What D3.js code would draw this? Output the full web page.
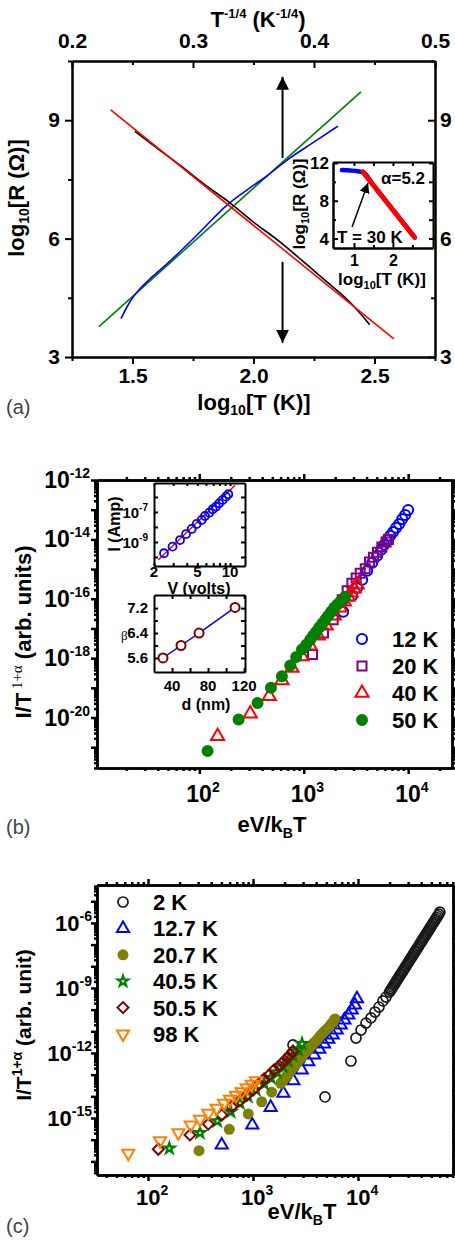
<!DOCTYPE html>
<html>
<head>
<meta charset="utf-8">
<script src="https://cdn.jsdelivr.net/npm/d3@7"></script>
<style>
  body { margin: 0; background: #fff; }
  svg { display: block; }
</style>
</head>
<body>
<svg id="fig" width="455" height="1240"></svg>
<script>
// values; "Log" arrays hold log10 values

// ---- (a) main: log10 R vs log10 T (black data, red fit), bottom axis
const aLogT = [1.51, 1.6, 1.7, 1.8, 1.9, 2.0, 2.1, 2.2, 2.3, 2.4, 2.48];
const aLogR = [8.72, 8.3, 7.84, 7.36, 6.92, 6.42, 5.96, 5.45, 4.92, 4.38, 3.82];
const aFitLogT = [1.41, 2.58];
const aFitLogR = [9.26, 3.46];
// ---- (a) main: log10 R vs T^-1/4 (blue data, green fit), top axis
const aTq = [0.2405, 0.2479, 0.2562, 0.2645, 0.2785, 0.3033, 0.3281, 0.3496, 0.3612, 0.3777, 0.3992, 0.4198];
const aTqLogR = [3.97, 4.40, 4.73, 4.98, 5.36, 6.09, 6.85, 7.34, 7.59, 7.99, 8.43, 8.85];
const aTqFit = [0.2223, 0.4388];
const aTqFitLogR = [3.77, 9.72];
// arrows (log10 T, from / to log10 R)
const arrowLogT = 2.12;
const arrowUp = [8.04, 10.1];
const arrowDown = [5.41, 3.36];
// ---- (a) inset
const insLogT = [0.69, 0.9, 1.1, 1.24, 1.5, 2.0, 2.56];
const insLogR = [11.25, 11.2, 11.12, 11.0, 9.62, 7.02, 4.12];
const insFitLogT = [1.23, 2.56];
const insFitLogR = [11.04, 4.11];
const insArrowLogT = [0.95, 1.36];
const insArrowLogR = [5.22, 9.88];
// tick values (a)
const aBottomTicks = [1.5, 2.0, 2.5], aBottomMinor = [1.25, 1.75, 2.25, 2.75];
const aTopTicks = [0.2, 0.3, 0.4, 0.5], aTopMinor = [0.25, 0.35, 0.45];
const aLeftTicks = [3, 6, 9], aLeftMinor = [4.5, 7.5, 10.5];
const insYTicks = [4, 8, 12], insYMinor = [6, 10];
const insXTicks = [1, 2], insXMinor = [1.5, 2.5];

// ---- (b) main: log10(eV/kBT), log10(I/T^(1+a))
const b12LogX = [3.378, 3.464, 3.512, 3.56, 3.608, 3.656, 3.703, 3.742, 3.77, 3.799, 3.828, 3.856, 3.885, 3.914, 3.943, 3.971, 4.0];
const b12LogY = [-16.44, -15.9, -15.63, -15.36, -15.06, -14.79, -14.55, -14.35, -14.18, -14.02, -13.88, -13.75, -13.61, -13.48, -13.31, -13.18, -13.01];
const b20LogX = [3.084, 3.189, 3.282, 3.368, 3.416, 3.461, 3.502, 3.541, 3.589, 3.63, 3.668, 3.706, 3.748, 3.789, 3.811];
const b20LogY = [-17.88, -17.15, -16.71, -16.03, -15.73, -15.48, -15.3, -15.14, -14.99, -14.76, -14.6, -14.43, -14.26, -14.09, -14.0];
const b40LogX = [2.175, 2.488, 2.67, 2.791, 2.887, 2.983, 3.062, 3.139, 3.215, 3.292, 3.349, 3.388, 3.426, 3.455, 3.483, 3.512];
const b40LogY = [-20.63, -19.87, -19.28, -18.75, -18.33, -17.94, -17.58, -17.24, -16.91, -16.57, -16.3, -16.1, -15.93, -15.8, -15.66, -15.53];
const b50LogX = [2.079, 2.376, 2.558, 2.686, 2.791, 2.871, 2.928, 2.983, 3.024, 3.062, 3.091, 3.12, 3.148, 3.177, 3.206, 3.234, 3.263, 3.292, 3.321, 3.349, 3.378, 3.397];
const b50LogY = [-21.13, -20.07, -19.51, -19.0, -18.61, -18.25, -17.96, -17.71, -17.55, -17.38, -17.24, -17.11, -16.97, -16.84, -16.71, -16.57, -16.44, -16.3, -16.2, -16.1, -16.0, -15.93];
const bYLabelExp = [-12, -14, -16, -18, -20];
const bXLabelExp = [2, 3, 4];
// ---- (b) inset I-V
const ivVolts = [2.47, 2.96, 3.47, 3.94, 4.44, 4.93, 5.48, 5.87, 6.43, 6.92, 7.41, 7.94, 8.53, 9.16, 9.62];
const ivLogI = [-9.75, -9.31, -8.87, -8.47, -8.13, -7.8, -7.53, -7.27, -7.05, -6.82, -6.65, -6.42, -6.2, -5.98, -5.82];
const ivFitVolts = [2.19, 11.1];
const ivFitLogI = [-10.2, -5.22];
const ivXTicks = [2, 3, 4, 5, 6, 7, 8, 9, 10], ivXLabels = [2, 5, 10];
const ivYTicks = [-10, -9, -8, -7, -6], ivYLabels = [-9, -7];
// ---- (b) inset beta-d
const dNm = [30, 50, 70, 110];
const beta = [5.6, 6.0, 6.4, 7.22];
const dTicks = [40, 60, 80, 100, 120], dLabels = [40, 80, 120];
const betaTicks = [5.6, 6.0, 6.4, 6.8, 7.2], betaLabels = [5.6, 6.4, 7.2];

// ---- (c) main
const c2LogX = [3.381, 3.686, 3.933, 3.981, 4.029, 4.076, 4.124, 4.162, 4.2, 4.238, 4.267,
  4.30, 4.31, 4.32, 4.33, 4.34, 4.35, 4.36, 4.37, 4.38, 4.39, 4.40, 4.41, 4.42, 4.43, 4.44, 4.45, 4.46,
  4.47, 4.48, 4.49, 4.50, 4.51, 4.52, 4.53, 4.54, 4.55, 4.56, 4.57, 4.58, 4.59, 4.60, 4.61, 4.62, 4.63,
  4.64, 4.65, 4.66, 4.67, 4.68, 4.69, 4.70, 4.71, 4.72, 4.73, 4.74, 4.75, 4.76, 4.77, 4.78];
const c2LogY = [-11.63, -14.03, -12.37, -11.31, -10.94, -10.62, -10.38, -10.11, -9.88, -9.6, -9.42,
  -9.19, -9.11, -9.04, -8.96, -8.88, -8.81, -8.73, -8.65, -8.58, -8.50, -8.42, -8.35, -8.27, -8.20, -8.12, -8.04, -7.97,
  -7.89, -7.81, -7.74, -7.66, -7.58, -7.51, -7.43, -7.35, -7.28, -7.20, -7.13, -7.05, -6.97, -6.90, -6.82, -6.74, -6.67,
  -6.59, -6.51, -6.44, -6.36, -6.28, -6.21, -6.13, -6.05, -5.98, -5.90, -5.82, -5.75, -5.67, -5.59, -5.50];
const c13LogX = [2.702, 2.993, 3.168, 3.289, 3.384, 3.464, 3.527, 3.581, 3.631, 3.676, 3.717, 3.759, 3.797, 3.835, 3.87, 3.908, 3.94, 3.971, 3.99];
const c13LogY = [-16.25, -15.32, -14.51, -13.86, -13.28, -12.78, -12.4, -12.09, -11.83, -11.59, -11.37, -11.17, -10.94, -10.71, -10.48, -10.25, -10.02, -9.79, -9.5];
const c21LogX = [2.486, 2.774, 2.955, 3.083, 3.178, 3.264, 3.285, 3.305, 3.324, 3.343, 3.362, 3.381, 3.4, 3.419, 3.438, 3.457, 3.476, 3.495, 3.514, 3.533, 3.552, 3.571, 3.59, 3.61, 3.629, 3.648, 3.667, 3.686, 3.705, 3.724, 3.743, 3.762, 3.781];
const c21LogY = [-16.51, -15.52, -14.81, -14.25, -13.81, -13.4, -13.27, -13.15, -13.03, -12.92, -12.8, -12.69, -12.57, -12.46, -12.34, -12.23, -12.11, -12.0, -11.91, -11.82, -11.7, -11.58, -11.49, -11.4, -11.28, -11.17, -11.07, -10.98, -10.89, -10.8, -10.68, -10.57, -10.43];
const c40LogX = [2.203, 2.495, 2.66, 2.788, 2.876, 2.952, 3.029, 3.105, 3.171, 3.229, 3.286, 3.333, 3.381, 3.429, 3.467];
const c40LogY = [-16.4, -15.68, -15.14, -14.71, -14.32, -14.0, -13.7, -13.42, -13.15, -12.88, -12.62, -12.36, -12.12, -11.85, -11.58];
const c50LogX = [2.098, 2.4, 2.574, 2.702, 2.797, 2.876, 2.943, 3.0, 3.057, 3.105, 3.152, 3.2, 3.248, 3.286, 3.324, 3.352, 3.381];
const c50LogY = [-16.44, -15.78, -15.28, -14.86, -14.48, -14.2, -13.94, -13.71, -13.43, -13.2, -13.02, -12.78, -12.6, -12.42, -12.23, -12.09, -11.91];
const c98LogX = [1.812, 2.114, 2.289, 2.407, 2.495, 2.574, 2.654, 2.724, 2.781, 2.838, 2.892, 2.94, 2.988, 3.029];
const c98LogY = [-16.63, -16.05, -15.68, -15.32, -15.06, -14.78, -14.55, -14.32, -14.14, -13.95, -13.79, -13.6, -13.44, -13.28];
const cYLabelExp = [-6, -9, -12, -15];
const cXLabelExp = [2, 3, 4];

// ================= drawing =================
const SANS = "'Liberation Sans', Arial, Helvetica, sans-serif";
const SERIF = "'Liberation Serif', 'DejaVu Serif', serif";

const svg = d3.select("#fig")
  .attr("font-family", SANS)
  .attr("font-weight", "bold");
svg.append("rect").attr("width", 455).attr("height", 1240).attr("fill", "#fff");

const defs = svg.append("defs");
function arrowHead(id, w) {
  defs.append("marker").attr("id", id)
    .attr("viewBox", "0 0 10 10").attr("refX", 10).attr("refY", 5)
    .attr("markerWidth", w).attr("markerHeight", w)
    .attr("markerUnits", "userSpaceOnUse").attr("orient", "auto")
    .append("path").attr("d", "M0,0L10,5L0,10z").attr("fill", "#000");
}
arrowHead("headBig", 13);
arrowHead("headSmall", 10);

function styleAxis(g, size, sw) {
  g.attr("font-size", size).attr("font-family", SANS).attr("font-weight", "bold");
  g.selectAll(".domain, .tick line").attr("stroke", "#000").attr("stroke-width", sw || 2);
  g.selectAll(".tick text").attr("fill", "#000");
  return g;
}
function axisAt(parent, axis, x, y, size, sw) {
  const g = parent.append("g").attr("transform", `translate(${x},${y})`).call(axis);
  return styleAxis(g, size || 10, sw);
}

// text with sub/superscripts; p.dy is offset from baseline
function richText(parent, x, y, parts, opts) {
  const t = parent.append("text").attr("x", x).attr("y", y)
    .attr("font-size", opts.size).attr("text-anchor", opts.anchor || "middle")
    .attr("fill", "#000");
  if (opts.rotate) t.attr("transform", `rotate(-90,${x},${y})`);
  let shift = 0;
  parts.forEach(p => {
    const ts = t.append("tspan").text(p.t);
    const dy = (p.dy || 0) - shift;
    if (dy) ts.attr("dy", dy);
    shift = p.dy || 0;
    if (p.size) ts.attr("font-size", p.size);
    if (p.font) ts.attr("font-family", p.font);
    if (p.weight) ts.attr("font-weight", p.weight);
  });
  return t;
}

function decades(s) {
  const [a, b] = s.domain(), out = [];
  for (let e = Math.ceil(Math.log10(a) - 1e-9); e <= Math.floor(Math.log10(b) + 1e-9); e++) out.push(Math.pow(10, e));
  return out;
}
function minors(s) {
  const [a, b] = s.domain(), out = [];
  for (let e = Math.floor(Math.log10(a)); e <= Math.ceil(Math.log10(b)); e++)
    for (let k = 2; k < 10; k++) {
      const v = k * Math.pow(10, e);
      if (v >= a && v <= b) out.push(v);
    }
  return out;
}

// four-sided log frame with outward ticks
function logBox(g, sx, sy, sw) {
  const [x0, x1] = sx.range(), [y0, y1] = sy.range();
  const sets = [[minors, 3], [decades, 6]];
  sets.forEach(([fn, len]) => {
    axisAt(g, d3.axisBottom(sx).tickValues(fn(sx)).tickSize(len).tickSizeOuter(0).tickFormat(""), 0, y0, 10, sw);
    axisAt(g, d3.axisTop(sx).tickValues(fn(sx)).tickSize(len).tickSizeOuter(0).tickFormat(""), 0, y1, 10, sw);
    axisAt(g, d3.axisLeft(sy).tickValues(fn(sy)).tickSize(len).tickSizeOuter(0).tickFormat(""), x0, 0, 10, sw);
    axisAt(g, d3.axisRight(sy).tickValues(fn(sy)).tickSize(len).tickSizeOuter(0).tickFormat(""), x1, 0, 10, sw);
  });
}

const symbolTypes = {
  circle: d3.symbolCircle, square: d3.symbolSquare, triangle: d3.symbolTriangle,
  diamond: d3.symbolSquare, down: d3.symbolTriangle, star: d3.symbolStar
};
const symbolRotate = { diamond: 45, down: 180 };
function styleMark(sel, s) {
  return sel.attr("d", d3.symbol(symbolTypes[s.shape], s.size)())
    .attr("fill", s.fill ? s.color : "none")
    .attr("stroke", s.fill ? "none" : s.color)
    .attr("stroke-width", s.sw || 2);
}
function drawSeries(g, sx, sy, s) {
  g.append("g").selectAll("path")
    .data(d3.zip(s.lx, s.ly))
    .join("path")
    .attr("transform", d => `translate(${sx(10 ** d[0])},${sy(10 ** d[1])}) rotate(${symbolRotate[s.shape] || 0})`)
    .call(sel => styleMark(sel, s));
}
function legend(g, series, mx, tx, y0, step, size) {
  series.forEach((s, i) => {
    const cy = y0 + i * step;
    g.append("path")
      .attr("transform", `translate(${mx},${cy}) rotate(${symbolRotate[s.shape] || 0})`)
      .call(sel => styleMark(sel, s));
    g.append("text").attr("x", tx).attr("y", cy + 8).attr("font-size", size).text(s.name);
  });
}

// ====================== panel (a) ======================
const gA = svg.append("g");
const aX = d3.scaleLinear().domain([1.25, 2.75]).range([72, 435]);
const aXt = d3.scaleLinear().domain([0.2, 0.5]).range([72, 435]);
const aY = d3.scaleLinear().domain([3, 10.5]).range([357, 61]);

axisAt(gA, d3.axisBottom(aX).tickValues(aBottomMinor).tickSize(4).tickSizeOuter(0).tickFormat(""), 0, 357);
axisAt(gA, d3.axisBottom(aX).tickValues(aBottomTicks).tickSize(7).tickSizeOuter(0).tickPadding(4).tickFormat(d3.format(".1f")), 0, 357, 21);
axisAt(gA, d3.axisTop(aXt).tickValues(aTopMinor).tickSize(-4).tickSizeOuter(0).tickFormat(""), 0, 61);
axisAt(gA, d3.axisTop(aXt).tickValues(aTopTicks).tickSize(-7).tickSizeOuter(0).tickPadding(13).tickFormat(d3.format(".1f")), 0, 61, 21);
axisAt(gA, d3.axisLeft(aY).tickValues(aLeftMinor).tickSize(4).tickSizeOuter(0).tickFormat(""), 72, 0);
axisAt(gA, d3.axisLeft(aY).tickValues(aLeftTicks).tickSize(7).tickSizeOuter(0).tickPadding(5).tickFormat(d3.format("d")), 72, 0, 21);
axisAt(gA, d3.axisRight(aY).tickValues(aLeftMinor).tickSize(-4).tickSizeOuter(0).tickFormat(""), 435, 0);
axisAt(gA, d3.axisRight(aY).tickValues(aLeftTicks).tickSize(-7).tickSizeOuter(0).tickPadding(5).tickFormat(d3.format("d")), 435, 0, 21);

const lineT = d3.line().x(d => aX(d[0])).y(d => aY(d[1]));
const lineTq = d3.line().x(d => aXt(d[0])).y(d => aY(d[1]));
const lineTqSmooth = d3.line().x(d => aXt(d[0])).y(d => aY(d[1])).curve(d3.curveMonotoneX);
const lineTSmooth = d3.line().x(d => aX(d[0])).y(d => aY(d[1])).curve(d3.curveMonotoneX);

gA.append("path").attr("d", lineTq(d3.zip(aTqFit, aTqFitLogR))).attr("fill", "none").attr("stroke", "#008000").attr("stroke-width", 1.6);
gA.append("path").attr("d", lineTqSmooth(d3.zip(aTq, aTqLogR))).attr("fill", "none").attr("stroke", "#0000ff").attr("stroke-width", 1.6);
gA.append("path").attr("d", lineTSmooth(d3.zip(aLogT, aLogR))).attr("fill", "none").attr("stroke", "#000").attr("stroke-width", 1.6);
gA.append("path").attr("d", lineT(d3.zip(aFitLogT, aFitLogR))).attr("fill", "none").attr("stroke", "#ff0000").attr("stroke-width", 1.6);

gA.append("line")
  .attr("x1", aX(arrowLogT)).attr("x2", aX(arrowLogT))
  .attr("y1", aY(arrowUp[0])).attr("y2", aY(arrowUp[1]))
  .attr("stroke", "#000").attr("stroke-width", 2).attr("marker-end", "url(#headBig)");
gA.append("line")
  .attr("x1", aX(arrowLogT)).attr("x2", aX(arrowLogT))
  .attr("y1", aY(arrowDown[0])).attr("y2", aY(arrowDown[1]))
  .attr("stroke", "#000").attr("stroke-width", 2).attr("marker-end", "url(#headBig)");

richText(gA, 24, 198, [{ t: "log" }, { t: "10", dy: 5, size: 14 }, { t: "[R (Ω)]" }], { size: 22, rotate: true });
richText(gA, 254, 410, [{ t: "log" }, { t: "10", dy: 5, size: 14 }, { t: "[T (K)]" }], { size: 22 });
richText(gA, 258, 27, [{ t: "T" }, { t: "-1/4", dy: -9, size: 13 }, { t: " (K" }, { t: "-1/4", dy: -9, size: 13 }, { t: ")" }], { size: 22 });
gA.append("text").attr("x", 6).attr("y", 414).attr("font-size", 20).attr("font-weight", "normal").attr("fill", "#444").text("(a)");

// inset (a)
const gI = svg.append("g");
const iX = d3.scaleLinear().domain([0.46, 3.03]).range([333, 433]);
const iY = d3.scaleLinear().domain([3, 12.1]).range([248, 162]);
gI.append("rect").attr("x", 333).attr("y", 162).attr("width", 100).attr("height", 86).attr("fill", "#fff");
axisAt(gI, d3.axisBottom(iX).tickValues(insXMinor).tickSize(-3).tickSizeOuter(0).tickFormat(""), 0, 248);
axisAt(gI, d3.axisBottom(iX).tickValues(insXTicks).tickSize(-5).tickSizeOuter(0).tickPadding(7).tickFormat(d3.format("d")), 0, 248, 16);
axisAt(gI, d3.axisTop(iX).tickValues(insXTicks.concat(insXMinor)).tickSize(-4).tickSizeOuter(0).tickFormat(""), 0, 162);
axisAt(gI, d3.axisLeft(iY).tickValues(insYMinor).tickSize(-3).tickSizeOuter(0).tickFormat(""), 333, 0);
axisAt(gI, d3.axisLeft(iY).tickValues(insYTicks).tickSize(-5).tickSizeOuter(0).tickPadding(4).tickFormat(d3.format("d")), 333, 0, 17);
axisAt(gI, d3.axisRight(iY).tickValues(insYTicks.concat(insYMinor)).tickSize(-4).tickSizeOuter(0).tickFormat(""), 433, 0);

const lineI = d3.line().x(d => iX(d[0])).y(d => iY(d[1]));
gI.append("path").attr("d", lineI.curve(d3.curveMonotoneX)(d3.zip(insLogT, insLogR)))
  .attr("fill", "none").attr("stroke", "#0000ff").attr("stroke-width", 4.5).attr("stroke-linecap", "round");
gI.append("path").attr("d", d3.line().x(d => iX(d[0])).y(d => iY(d[1]))(d3.zip(insFitLogT, insFitLogR)))
  .attr("fill", "none").attr("stroke", "#ff0000").attr("stroke-width", 5).attr("stroke-linecap", "round");
gI.append("line")
  .attr("x1", iX(insArrowLogT[0])).attr("y1", iY(insArrowLogR[0]))
  .attr("x2", iX(insArrowLogT[1])).attr("y2", iY(insArrowLogR[1]))
  .attr("stroke", "#000").attr("stroke-width", 1.5).attr("marker-end", "url(#headSmall)");
gI.append("text").attr("x", 381).attr("y", 184).attr("font-size", 17).text("α=5.2");
gI.append("text").attr("x", 337).attr("y", 243).attr("font-size", 17).text("T = 30 K");
richText(gI, 305, 204, [{ t: "log" }, { t: "10", dy: 4, size: 11 }, { t: "[R (Ω)]" }], { size: 17, rotate: true });
richText(gI, 382, 285, [{ t: "log" }, { t: "10", dy: 4, size: 11 }, { t: "[T (K)]" }], { size: 17 });

// ====================== panel (b) ======================
const gB = svg.append("g");
const bX = d3.scaleLog().domain([10 ** 1.02, 10 ** 4.42]).range([97, 452]);
const bY = d3.scaleLog().domain([10 ** -21.7, 1e-12]).range([768, 480]);
logBox(gB, bX, bY, 2.5);
bYLabelExp.forEach(e => richText(gB, 90, bY(10 ** e) + 8, [{ t: "10" }, { t: String(e), dy: -10, size: 14 }], { size: 23, anchor: "end" }));
bXLabelExp.forEach(e => richText(gB, bX(10 ** e) - 13, 802, [{ t: "10" }, { t: String(e), dy: -10, size: 14 }], { size: 23, anchor: "start" }));

const bSeries = [
  { name: "12 K", lx: b12LogX, ly: b12LogY, shape: "circle", size: 79, color: "#0000ff" },
  { name: "20 K", lx: b20LogX, ly: b20LogY, shape: "square", size: 81, color: "#800080" },
  { name: "40 K", lx: b40LogX, ly: b40LogY, shape: "triangle", size: 75, color: "#ff0000" },
  { name: "50 K", lx: b50LogX, ly: b50LogY, shape: "circle", size: 113, color: "#008000", fill: true }
];
bSeries.forEach(s => drawSeries(gB, bX, bY, s));
legend(gB, bSeries, 362, 392, 639, 27, 22);

richText(gB, 31, 632, [{ t: "I/T" }, { t: " 1+α", dy: -9, size: 15, font: SERIF, weight: "normal" }, { t: " (arb. units)" }], { size: 22, rotate: true });
richText(gB, 272, 832, [{ t: "eV/k" }, { t: "B", dy: 6, size: 14 }, { t: "T" }], { size: 22 });
gB.append("text").attr("x", 6).attr("y", 834).attr("font-size", 20).attr("font-weight", "normal").attr("fill", "#444").text("(b)");

// inset I-V
const gV = svg.append("g");
const ivX = d3.scaleLog().domain([2, 13.7]).range([154, 245]);
const ivY = d3.scaleLog().domain([10 ** -10.6, 10 ** -5.07]).range([566, 483]);
gV.append("rect").attr("x", 154).attr("y", 483).attr("width", 91).attr("height", 83).attr("fill", "#fff");
const ivYT = ivYTicks.map(e => 10 ** e);
axisAt(gV, d3.axisBottom(ivX).tickValues(ivXTicks).tickSize(-3).tickSizeOuter(0).tickFormat(""), 0, 566);
axisAt(gV, d3.axisTop(ivX).tickValues(ivXTicks).tickSize(-3).tickSizeOuter(0).tickFormat(""), 0, 483);
axisAt(gV, d3.axisLeft(ivY).tickValues(ivYT).tickSize(-4).tickSizeOuter(0).tickFormat(""), 154, 0);
axisAt(gV, d3.axisRight(ivY).tickValues(ivYT).tickSize(-4).tickSizeOuter(0).tickFormat(""), 245, 0);
gV.append("path").attr("d", d3.line().x(d => ivX(d[0])).y(d => ivY(10 ** d[1]))(d3.zip(ivFitVolts, ivFitLogI)))
  .attr("stroke", "#ff0000").attr("stroke-width", 1.5).attr("fill", "none");
gV.selectAll(".ivpt").data(d3.zip(ivVolts, ivLogI)).join("circle")
  .attr("cx", d => ivX(d[0])).attr("cy", d => ivY(10 ** d[1])).attr("r", 4)
  .attr("fill", "none").attr("stroke", "#0000ff").attr("stroke-width", 1.8);
ivYLabels.forEach(e => richText(gV, 148, ivY(10 ** e) + 6, [{ t: "10" }, { t: String(e), dy: -7, size: 10 }], { size: 15, anchor: "end" }));
ivXLabels.forEach(v => gV.append("text").attr("x", ivX(v)).attr("y", 577).attr("text-anchor", "middle").attr("font-size", 15).text(v));
richText(gV, 199, 594, [{ t: "V (volts)" }], { size: 16 });
richText(gV, 120, 524, [{ t: "I (Amp)" }], { size: 16, rotate: true });

// inset beta-d
const gD = svg.append("g");
const dX = d3.scaleLinear().domain([20, 121]).range([154, 245]);
const dY = d3.scaleLinear().domain([5.15, 7.62]).range([672, 595]);
gD.append("rect").attr("x", 154).attr("y", 595).attr("width", 91).attr("height", 77).attr("fill", "#fff");
axisAt(gD, d3.axisBottom(dX).tickValues(dTicks).tickSize(-4).tickSizeOuter(0).tickFormat(""), 0, 672);
axisAt(gD, d3.axisTop(dX).tickValues(dTicks).tickSize(-4).tickSizeOuter(0).tickFormat(""), 0, 595);
axisAt(gD, d3.axisLeft(dY).tickValues(betaTicks).tickSize(-4).tickSizeOuter(0).tickFormat(""), 154, 0);
axisAt(gD, d3.axisRight(dY).tickValues(betaTicks).tickSize(-4).tickSizeOuter(0).tickFormat(""), 245, 0);
gD.append("path").attr("d", d3.line().x(d => dX(d[0])).y(d => dY(d[1]))(d3.zip(dNm, beta)))
  .attr("stroke", "#0000ff").attr("stroke-width", 1.5).attr("fill", "none");
gD.selectAll(".bpt").data(d3.zip(dNm, beta)).join("circle")
  .attr("cx", d => dX(d[0])).attr("cy", d => dY(d[1])).attr("r", 4.5)
  .attr("fill", "#fff").attr("stroke", "#800000").attr("stroke-width", 2);
betaLabels.forEach(v => gD.append("text").attr("x", 148).attr("y", dY(v) + 5).attr("text-anchor", "end").attr("font-size", 15).text(v.toFixed(1)));
dLabels.forEach(v => gD.append("text").attr("x", dX(v)).attr("y", 691).attr("text-anchor", "middle").attr("font-size", 15).text(v));
gD.append("text").attr("x", 121).attr("y", 640).attr("font-size", 13).attr("font-weight", "normal").attr("font-family", SERIF).text("β");
richText(gD, 206, 710, [{ t: "d (nm)" }], { size: 16 });

// ====================== panel (c) ======================
const gC = svg.append("g");
const cX = d3.scaleLog().domain([10 ** 1.514, 10 ** 4.905]).range([97, 453]);
const cY = d3.scaleLog().domain([10 ** -17.63, 10 ** -4.25]).range([1175, 885]);
logBox(gC, cX, cY, 2.5);
cYLabelExp.forEach(e => richText(gC, 92, cY(10 ** e) + 8, [{ t: "10" }, { t: String(e), dy: -10, size: 14 }], { size: 22, anchor: "end" }));
cXLabelExp.forEach(e => richText(gC, cX(10 ** e) - 12, 1205, [{ t: "10" }, { t: String(e), dy: -10, size: 14 }], { size: 22, anchor: "start" }));

const cSeries = [
  { name: "2 K", lx: c2LogX, ly: c2LogY, shape: "circle", size: 79, color: "#1a1a1a", sw: 1.7 },
  { name: "12.7 K", lx: c13LogX, ly: c13LogY, shape: "triangle", size: 64, color: "#0000ff" },
  { name: "20.7 K", lx: c21LogX, ly: c21LogY, shape: "circle", size: 95, color: "#808000", fill: true },
  { name: "40.5 K", lx: c40LogX, ly: c40LogY, shape: "star", size: 34, color: "#008000", sw: 2.2 },
  { name: "50.5 K", lx: c50LogX, ly: c50LogY, shape: "diamond", size: 61, color: "#800000" },
  { name: "98 K", lx: c98LogX, ly: c98LogY, shape: "down", size: 64, color: "#ff8000" }
];
cSeries.forEach(s => drawSeries(gC, cX, cY, s));
legend(gC, cSeries, 123, 153, 902, 26.4, 22);

richText(gC, 31, 1025, [{ t: "I/T" }, { t: "1+α", dy: -9, size: 14 }, { t: " (arb. unit)" }], { size: 21, rotate: true });
richText(gC, 302, 1219, [{ t: "eV/k" }, { t: "B", dy: 6, size: 14 }, { t: "T" }], { size: 22 });
gC.append("text").attr("x", 6).attr("y", 1233).attr("font-size", 20).attr("font-weight", "normal").attr("fill", "#444").text("(c)");
</script>
</body>
</html>
